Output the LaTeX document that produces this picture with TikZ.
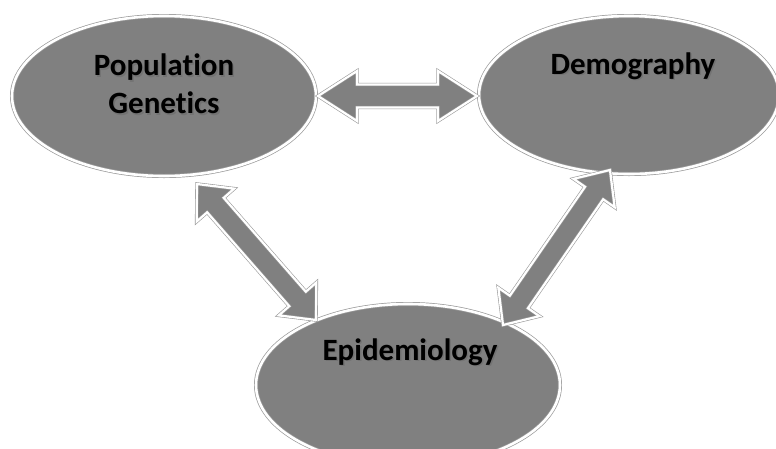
\documentclass[tikz,border=0pt]{standalone}
\usepackage{fontspec}
\setmainfont[RawFeature={-liga}]{Carlito}
\usetikzlibrary{shapes.geometric,calc}
\definecolor{fillgray}{HTML}{808080}
\definecolor{edgegray}{HTML}{9A9A9A}
\tikzset{
  blob/.style={ellipse, fill=fillgray, draw=edgegray, double=white,
    double distance=2.6pt, line width=0.7pt, inner sep=0pt},
  barrow/.style={fill=fillgray, draw=edgegray, double=white,
    double distance=2.2pt, line width=0.6pt, line join=miter},
  lbl/.style={font=\fontsize{31}{38}\selectfont\bfseries, align=center, text=black},
  lblshadow/.style={font=\fontsize{31}{38}\selectfont\bfseries, align=center, text=black!55}
}
% #1 start, #2 end, #3 head length, #4 head half width, #5 shaft half width
\newcommand\blockarrow[5]{%
  \coordinate (q1) at ($(#1)!#3!(#2)$);
  \coordinate (q2) at ($(#2)!#3!(#1)$);
  \draw[barrow] (#1) -- ($(q1)!#4!90:(#2)$) -- ($(q1)!#5!90:(#2)$)
    -- ($(q2)!#5!-90:(#1)$) -- ($(q2)!#4!-90:(#1)$) -- (#2)
    -- ($(q2)!#4!90:(#1)$) -- ($(q2)!#5!90:(#1)$)
    -- ($(q1)!#5!-90:(#2)$) -- ($(q1)!#4!-90:(#2)$) -- cycle;}
\begin{document}
\begin{tikzpicture}[x=1pt,y=-1pt]
\useasboundingbox[fill=white] (0,0) rectangle (776,448);
% ellipses
\node[blob, minimum width=304pt, minimum height=160pt] (pg) at (164,96) {};
\node[blob, minimum width=300pt, minimum height=158pt] (dm) at (629,95) {};
\node[blob, minimum width=304pt, minimum height=162pt] (ep) at (408,385) {};
% labels
\node[lblshadow] (pgs) at (165.5,85.5) {Population\\Genetics};
\node[lbl] (pgt) at (164,84) {Population\\Genetics};
\node[lblshadow] (dms) at (634.5,67.5) {Demography};
\node[lbl] (dmt) at (633,66) {Demography};
\node[lblshadow] (eps) at (411.5,353.5) {Epidemiology};
\node[lbl] (ept) at (410,352) {Epidemiology};
% arrow end points
\coordinate (h1) at (318,96);
\coordinate (h2) at (477,96);
\coordinate (l1) at (197,184);
\coordinate (l2) at (316,320);
\coordinate (r1) at (610,170);
\coordinate (r2) at (503,325);
\blockarrow{h1}{h2}{39pt}{25pt}{11.5pt}
\blockarrow{l1}{l2}{28pt}{25pt}{11pt}
\blockarrow{r1}{r2}{28pt}{25pt}{11pt}
\end{tikzpicture}
\end{document}
